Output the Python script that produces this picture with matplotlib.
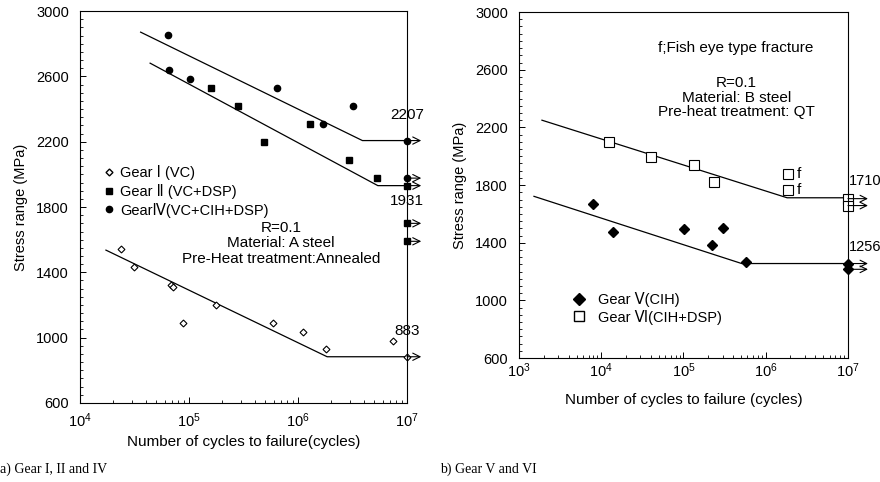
import matplotlib.pyplot as plt
from matplotlib.lines import Line2D
from matplotlib.ticker import FixedLocator, LogLocator, NullFormatter

plt.rcParams['font.family'] = ['Liberation Sans', 'DejaVu Sans']
plt.rcParams['font.size'] = 10.5

# --- (a) Gear I, II and IV ---
g1_n = [2.4e4, 3.1e4, 6.9e4, 7.1e4, 8.8e4, 1.77e5, 5.9e5, 1.1e6, 1.8e6, 7.4e6, 1e7]
g1_s = [1542, 1432, 1320, 1310, 1092, 1200, 1092, 1036, 930, 980, 883]
g2_n = [1.59e5, 2.8e5, 4.9e5, 1.29e6, 2.95e6, 5.3e6, 1e7, 1e7, 1e7]
g2_s = [2528, 2418, 2198, 2308, 2088, 1978, 1931, 1700, 1590]
g4_n = [6.4e4, 6.5e4, 1.02e5, 6.4e5, 1.7e6, 3.2e6, 1e7, 1e7]
g4_s = [2852, 2638, 2584, 2528, 2306, 2416, 2207, 1977]
g1_fit_n = [1.73e4, 1.85e6, 1e7]
g1_fit_s = [1536, 883, 883]
g2_fit_n = [4.4e4, 5.4e6, 1e7]
g2_fit_s = [2681, 1931, 1931]
g4_fit_n = [3.6e4, 3.9e6, 1e7]
g4_fit_s = [2871, 2207, 2207]
runout_a = [2207, 1977, 1931, 1700, 1590, 883]

# --- (b) Gear V and VI ---
g5_n = [7.9e3, 1.38e4, 1.01e5, 2.2e5, 3.0e5, 5.75e5, 1e7, 1e7]
g5_s = [1672, 1478, 1494, 1384, 1502, 1265, 1256, 1216]
g6_n = [1.24e4, 4.0e4, 1.34e5, 2.35e5, 1.86e6, 1.86e6, 1e7, 1e7]
g6_s = [2099, 1993, 1938, 1822, 1880, 1764, 1706, 1658]
g5_fit_n = [1.52e3, 5.1e5, 1e7]
g5_fit_s = [1722, 1256, 1256]
g6_fit_n = [1.9e3, 1.82e6, 1e7]
g6_fit_s = [2250, 1712, 1712]
runout_b = [1706, 1658, 1256, 1216]

y_major = [600, 1000, 1400, 1800, 2200, 2600, 3000]
y_minor = list(range(600, 3001, 50))

fig = plt.figure(figsize=(8.8, 4.82), dpi=100)
ax1 = fig.add_axes([0.0909, 0.164, 0.3716, 0.813])
ax2 = fig.add_axes([0.5898, 0.257, 0.3738, 0.718])


def style(ax, xmin, xmax, xpad):
    ax.set_xscale('log')
    ax.set_xlim(xmin, xmax)
    ax.set_ylim(600, 3000)
    ax.yaxis.set_major_locator(FixedLocator(y_major))
    ax.yaxis.set_minor_locator(FixedLocator(y_minor))
    ax.xaxis.set_major_locator(LogLocator(base=10, numticks=10))
    ax.xaxis.set_minor_locator(LogLocator(base=10, subs=range(2, 10), numticks=20))
    ax.xaxis.set_minor_formatter(NullFormatter())
    ax.tick_params(which='both', direction='in', top=False, right=False)
    ax.tick_params(which='major', length=4, width=0.7, labelsize=10.5)
    ax.tick_params(which='minor', length=2, width=0.6)
    ax.tick_params(axis='x', which='major', pad=xpad)
    ax.tick_params(axis='y', which='major', pad=8)
    for sp in ax.spines.values():
        sp.set_linewidth(0.8)
    ax.set_ylabel('Stress range (MPa)', fontsize=10.5, labelpad=6)


# panel a
style(ax1, 1e4, 1e7, 6)
ax1.plot(g1_fit_n, g1_fit_s, color='black', lw=0.9)
ax1.plot(g2_fit_n, g2_fit_s, color='black', lw=0.9)
ax1.plot(g4_fit_n, g4_fit_s, color='black', lw=0.9)
ax1.plot(g1_n, g1_s, 'D', ms=3.5, mfc='white', mec='black', mew=0.8, ls='none', clip_on=False)
ax1.plot(g2_n, g2_s, 's', ms=4.5, color='black', ls='none', clip_on=False)
ax1.plot(g4_n, g4_s, 'o', ms=4.5, color='black', ls='none', clip_on=False)
for s in runout_a:
    ax1.annotate('', xy=(1.35e7, s), xytext=(1e7, s), annotation_clip=False,
                 arrowprops=dict(arrowstyle='->', lw=0.8, color='black',
                                 shrinkA=0, shrinkB=0, mutation_scale=13))
ax1.text(1e7, 2320, '2207', ha='center', va='bottom', fontsize=11)
ax1.text(1e7, 1880, '1931', ha='center', va='top', fontsize=11)
ax1.text(1e7, 995, '883', ha='center', va='bottom', fontsize=11)
ax1.text(0.615, 0.465, 'R=0.1\nMaterial: A steel\nPre-Heat treatment:Annealed',
         transform=ax1.transAxes, ha='center', va='top', fontsize=11, linespacing=1.15)
h1 = [Line2D([], [], marker='D', ms=3.5, mfc='white', mec='black', ls='none'),
      Line2D([], [], marker='s', ms=4.5, color='black', ls='none'),
      Line2D([], [], marker='o', ms=4.5, color='black', ls='none')]
ax1.legend(h1, ['Gear Ⅰ (VC)', 'Gear Ⅱ (VC+DSP)', 'GearⅣ(VC+CIH+DSP)'],
           loc='upper left', bbox_to_anchor=(0.03, 0.64), frameon=False,
           handlelength=0.8, handletextpad=0.4, labelspacing=0.25, fontsize=10.5)
ax1.set_xlabel('Number of cycles to failure(cycles)', fontsize=11, labelpad=4)

# panel b
style(ax2, 1e3, 1e7, 2)
ax2.plot(g5_fit_n, g5_fit_s, color='black', lw=0.9)
ax2.plot(g6_fit_n, g6_fit_s, color='black', lw=0.9)
ax2.plot(g5_n, g5_s, 'D', ms=5, color='black', ls='none', clip_on=False)
ax2.plot(g6_n, g6_s, 's', ms=7, mfc='white', mec='black', mew=0.8, ls='none', clip_on=False)
for s in runout_b:
    ax2.annotate('', xy=(1.75e7, s), xytext=(1e7, s), annotation_clip=False,
                 arrowprops=dict(arrowstyle='->', lw=0.8, color='black',
                                 shrinkA=0, shrinkB=0, mutation_scale=12))
ax2.text(1.03e7, 1780, '1710', ha='left', va='bottom', fontsize=10.5)
ax2.text(1.03e7, 1320, '1256', ha='left', va='bottom', fontsize=10.5)
ax2.text(2.4e6, 1880, 'f', ha='left', va='center', fontsize=11)
ax2.text(2.4e6, 1764, 'f', ha='left', va='center', fontsize=11)
ax2.text(0.66, 0.895, 'f;Fish eye type fracture', transform=ax2.transAxes,
         ha='center', va='center', fontsize=11)
ax2.text(0.66, 0.815, 'R=0.1\nMaterial: B steel\nPre-heat treatment: QT',
         transform=ax2.transAxes, ha='center', va='top', fontsize=11, linespacing=1.05)
h2 = [Line2D([], [], marker='D', ms=6, color='black', ls='none'),
      Line2D([], [], marker='s', ms=7, mfc='white', mec='black', ls='none')]
ax2.legend(h2, ['Gear Ⅴ(CIH)', 'Gear Ⅵ(CIH+DSP)'],
           loc='upper left', bbox_to_anchor=(0.12, 0.23), frameon=False,
           handlelength=1.0, handletextpad=0.8, labelspacing=0.2, fontsize=10.5)
ax2.set_xlabel('Number of cycles to failure (cycles)', fontsize=11, labelpad=10)

fig.text(0.0, 0.018, 'a) Gear I, II and IV', family='Liberation Serif', fontsize=10)
fig.text(0.5, 0.018, 'b) Gear V and VI', family='Liberation Serif', fontsize=10)

fig.savefig('out.png', dpi=100, facecolor='white')
